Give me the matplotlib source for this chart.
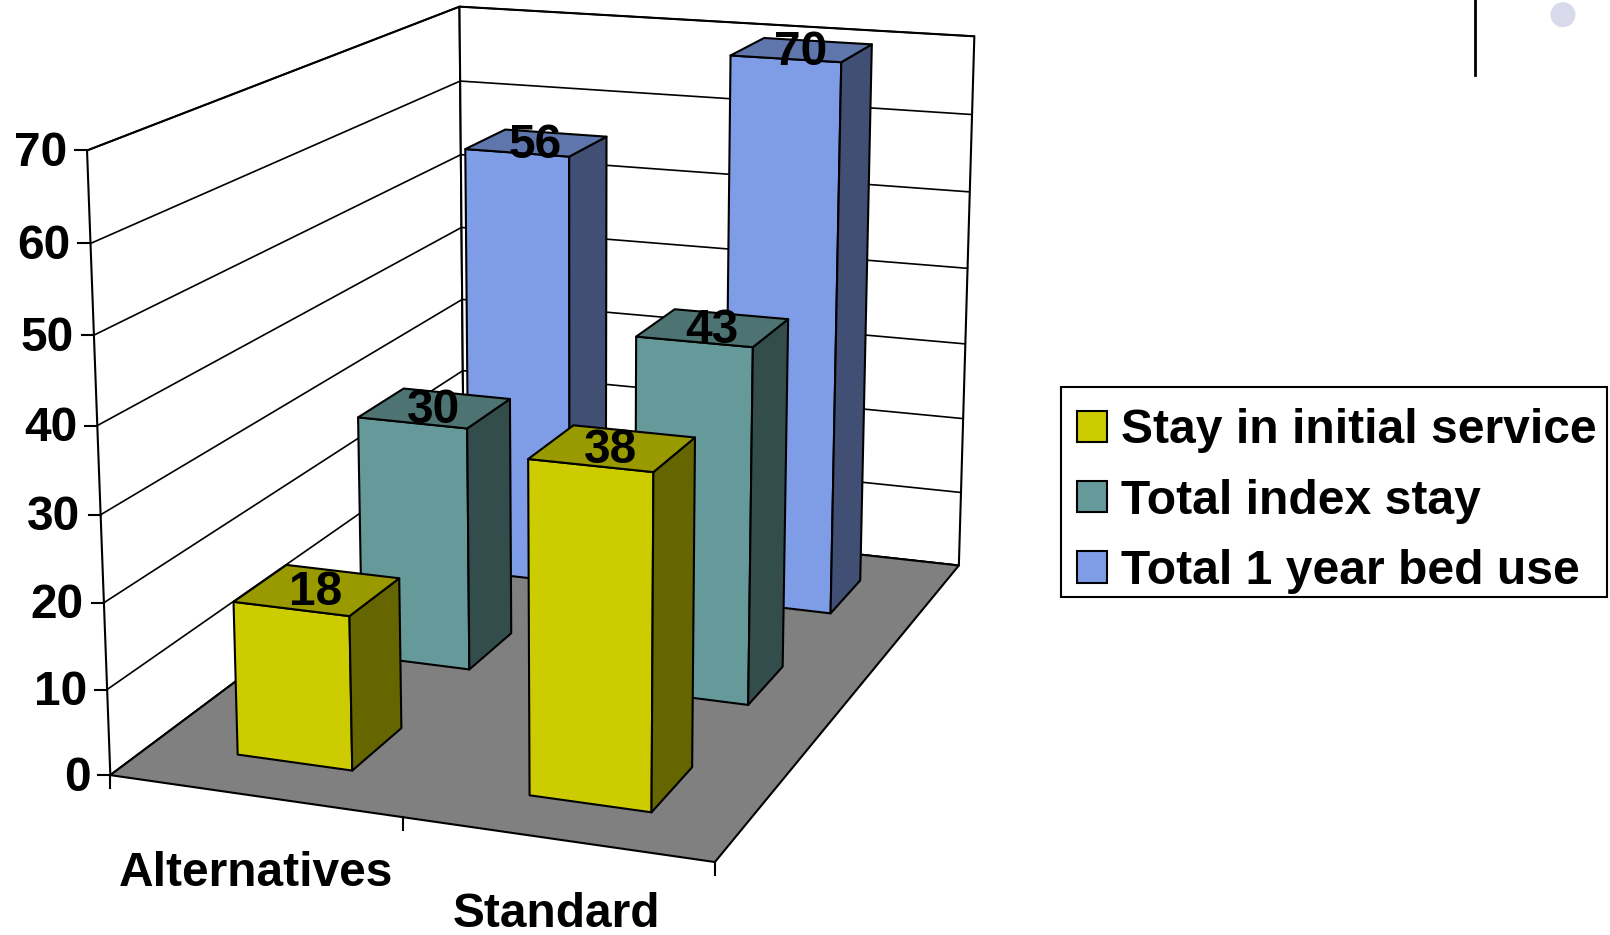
#!/usr/bin/env python
# coding: utf-8

import numpy as np
import matplotlib
matplotlib.use('Agg')
import matplotlib.pyplot as plt
from matplotlib.patches import Polygon, Rectangle, Circle

plt.rcParams['font.family'] = ['Liberation Sans', 'DejaVu Sans']

# Data
categories = ['Alternatives', 'Standard']
series_names = ['Stay in initial service', 'Total index stay', 'Total 1 year bed use']
stay_initial = [18, 38]
total_index = [30, 43]
total_year = [56, 70]
value_ticks = [0, 10, 20, 30, 40, 50, 60, 70]

# Face colours per series: front, side, top
front_colors = ['#CCCC00', '#669999', '#7F9DE6']
side_colors = ['#666600', '#334D4D', '#404F73']
top_colors = ['#999900', '#4D7373', '#5F76AD']

W, H = 1610, 935
VMAX = 70.0
LW = 1.5
FONT_SIZE = 34.5

# Box corners (category, depth, value) and where they land on the canvas
box_points = [
    ((0, 0, 0), (110.7, 775.5)), ((2, 0, 0), (714.3, 862.0)),
    ((2, 3, 0), (959.0, 564.7)), ((0, 3, 0), (464.0, 511.0)),
    ((0, 0, 70), (86.7, 150.7)), ((0, 3, 70), (459.0, 6.7)),
    ((2, 3, 70), (974.8, 36.8)), ((1, 0, 0), (402.7, 818.0)),
    ((0, 0, 20), (104.3, 602.5)), ((0, 0, 50), (94.3, 334.0)),
]


# Least squares fit of the 3x4 perspective matrix
def fit_camera(points):
    rows, rhs = [], []
    for (x, y, z), (u, v) in points:
        z = z / VMAX
        rows.append([x, y, z, 1, 0, 0, 0, 0, -u * x, -u * y, -u * z])
        rows.append([0, 0, 0, 0, x, y, z, 1, -v * x, -v * y, -v * z])
        rhs += [u, v]
    sol = np.linalg.lstsq(np.array(rows, float), np.array(rhs, float), rcond=None)[0]
    return np.append(sol, 1.0).reshape(3, 4)


camera = fit_camera(box_points)


def project(x, y, z):
    p = camera @ np.array([x, y, z / VMAX, 1.0])
    return p[0] / p[2], p[1] / p[2]


def face(ax, corners, color, zorder):
    pts = [project(*c) for c in corners]
    ax.add_patch(Polygon(pts, closed=True, facecolor=color, edgecolor='black',
                         linewidth=LW, joinstyle='round', zorder=zorder))


def line3d(ax, a, b, lw=LW, zorder=2):
    pa, pb = project(*a), project(*b)
    ax.plot([pa[0], pb[0]], [pa[1], pb[1]], color='black', lw=lw, zorder=zorder,
            solid_capstyle='round')


def draw_bar(ax, cat, slot, value, s, zorder):
    # gap width of 150%: each bar fills 0.4 of its cell
    x0, x1 = cat + 0.3, cat + 0.7
    y0, y1 = slot + 0.3, slot + 0.7
    face(ax, [(x0, y0, 0), (x1, y0, 0), (x1, y0, value), (x0, y0, value)], front_colors[s], zorder)
    face(ax, [(x1, y0, 0), (x1, y1, 0), (x1, y1, value), (x1, y0, value)], side_colors[s], zorder)
    face(ax, [(x0, y0, value), (x1, y0, value), (x1, y1, value), (x0, y1, value)], top_colors[s], zorder)


fig = plt.figure(figsize=(W / 100, H / 100), dpi=100)
ax = fig.add_axes([0, 0, 1, 1])
ax.set_xlim(0, W)
ax.set_ylim(H, 0)
ax.axis('off')

# Walls and floor
face(ax, [(0, 0, 0), (0, 3, 0), (0, 3, VMAX), (0, 0, VMAX)], 'white', 1)
face(ax, [(0, 3, 0), (2, 3, 0), (2, 3, VMAX), (0, 3, VMAX)], 'white', 1)
for v in value_ticks:
    line3d(ax, (0, 0, v), (0, 3, v), lw=1.2)
    line3d(ax, (0, 3, v), (2, 3, v), lw=1.2)
face(ax, [(0, 0, 0), (2, 0, 0), (2, 3, 0), (0, 3, 0)], '#808080', 3)

# Bars, back row first
all_series = [stay_initial, total_index, total_year]
for s in [2, 1, 0]:
    for c in range(len(categories)):
        draw_bar(ax, c, s, all_series[s][c], s, 10 + (2 - s) * 2 + c)

# Value labels sit in the middle of each bar top
for s, vals in enumerate(all_series):
    for c, v in enumerate(vals):
        px, py = project(c + 0.5, s + 0.5, v)
        ax.text(px - 1.5, py + 2.5, str(v), ha='center', va='center', fontsize=FONT_SIZE,
                fontweight='bold', color='black', zorder=30)

# Value axis ticks and labels
for v in value_ticks:
    px, py = project(0, 0, v)
    ax.plot([px - 12, px], [py, py], color='black', lw=LW, zorder=4)
    ax.text(px - 20, py + 3, str(v), ha='right', va='center', fontsize=FONT_SIZE,
            fontweight='bold', color='black')

# Category axis ticks and labels
for c in [0, 1, 2]:
    px, py = project(c, 0, 0)
    ax.plot([px, px], [py, py + 13], color='black', lw=LW, zorder=4)
ax.text(255.7, 873.5, categories[0], ha='center', va='center', fontsize=FONT_SIZE, fontweight='bold')
ax.text(556.5, 914.5, categories[1], ha='center', va='center', fontsize=FONT_SIZE, fontweight='bold')

# Legend frame and entries
ax.add_patch(Rectangle((1060.7, 387), 546.3, 209.6, facecolor='white', edgecolor='black',
                       linewidth=LW, zorder=39))
handles = [Rectangle((0, 0), 1, 1, facecolor=front_colors[i], edgecolor='black', linewidth=LW)
           for i in range(3)]
prop = {'family': ['Liberation Sans', 'DejaVu Sans'], 'weight': 'bold', 'size': 34.6}
leg = ax.legend(handles, series_names, loc='upper left', bbox_to_anchor=(1063, 394),
                bbox_transform=ax.transData, prop=prop, frameon=False, borderpad=0.3,
                borderaxespad=0, handlelength=0.62, handleheight=0.62, handletextpad=0.29,
                labelspacing=0.525)
leg.set_zorder(40)

# Slide furniture in the top right corner
ax.plot([1475, 1475], [0, 75], color='black', lw=2.0, zorder=5)
ax.add_patch(Circle((1563, 14.7), 12.5, facecolor='#D9D9EC', edgecolor='none', zorder=5))

fig.savefig('out.png', dpi=100)
